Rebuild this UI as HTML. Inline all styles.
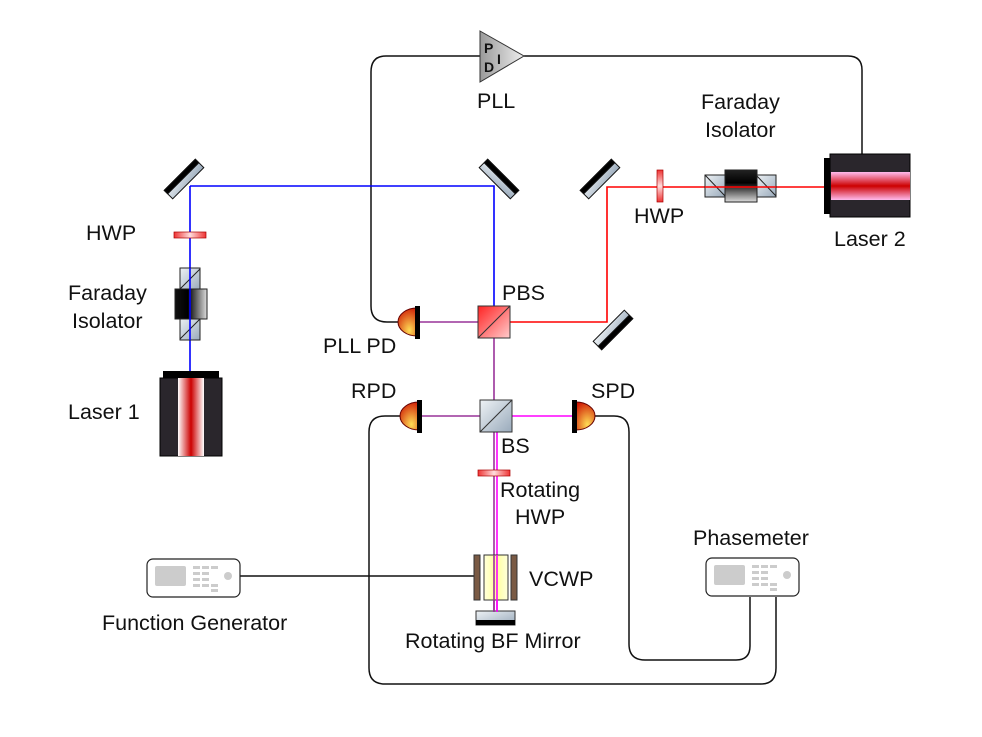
<!DOCTYPE html>
<html><head><style>body{margin:0;background:#fff}svg{display:block}text{font-family:"Liberation Sans",sans-serif;font-size:21.5px;fill:#111}</style></head><body>
<svg width="982" height="737" viewBox="0 0 982 737" xmlns="http://www.w3.org/2000/svg">
<defs>
<linearGradient id="red" x1="0" x2="1"><stop offset="0" stop-color="#fff"/><stop offset=".5" stop-color="#c00"/><stop offset="1" stop-color="#fff"/></linearGradient>
<linearGradient id="redv" x1="0" y1="0" x2="0" y2="1"><stop offset="0" stop-color="#fbe"/><stop offset=".5" stop-color="#c00"/><stop offset="1" stop-color="#fbe"/></linearGradient>
<linearGradient id="hwp" x1="0" x2="1"><stop offset="0" stop-color="#e33"/><stop offset=".5" stop-color="#fdd"/><stop offset="1" stop-color="#e33"/></linearGradient>
<linearGradient id="hwpv" x1="0" y1="0" x2="0" y2="1"><stop offset="0" stop-color="#e33"/><stop offset=".5" stop-color="#fdd"/><stop offset="1" stop-color="#e33"/></linearGradient>
<linearGradient id="mag" x1="0" x2="1"><stop offset="0" stop-color="#111"/><stop offset=".4" stop-color="#000"/><stop offset="1" stop-color="#ddd"/></linearGradient>
<linearGradient id="magv" x1="0" y1="0" x2="0" y2="1"><stop offset="0" stop-color="#222"/><stop offset=".4" stop-color="#000"/><stop offset="1" stop-color="#ddd"/></linearGradient>
<linearGradient id="glass" x1="0" y1="0" x2="1" y2="1"><stop offset="0" stop-color="#eef2f5"/><stop offset="1" stop-color="#9ab"/></linearGradient>
<linearGradient id="pbs" x1="0" y1="0" x2="1" y2="1"><stop offset="0" stop-color="#f22"/><stop offset="1" stop-color="#fcc"/></linearGradient>
<radialGradient id="pd" cx=".6" cy=".8" r=".9"><stop offset="0" stop-color="#fd5"/><stop offset="1" stop-color="#c10"/></radialGradient>
<linearGradient id="pll" x1="0" x2="1"><stop offset="0" stop-color="#999"/><stop offset="1" stop-color="#eee"/></linearGradient>
<linearGradient id="yel" x1="0" x2="1"><stop offset="0" stop-color="#ffd"/><stop offset=".5" stop-color="#ff9"/><stop offset="1" stop-color="#ffd"/></linearGradient>
</defs>
<g fill="none" stroke="#111" stroke-width="1.5">
<path d="M524 56 H848 Q862 56 862 70 V154"/>
<path d="M480 56 H386 Q371 56 371 72 V306 Q371 322 387 322 H400"/>
<path d="M593 416 H614 Q629 416 629 432 V644 Q629 660 645 660 H736 Q750 660 750 646 V597"/>
<path d="M400 416 H385 Q369 416 369 432 V668 Q369 684 385 684 H761 Q776 684 776 668 V597"/>
<path d="M240 576 H474"/>
</g>
<g fill="none" stroke-width="1.6">
<path d="M190 186 H494 V322" stroke="#00f"/>
<path d="M190 186 V372" stroke="#00f"/>
<path d="M825 187 H607 V322 H494" stroke="#f00"/>
<path d="M420 322 H494 V416 H420" stroke="#939"/>
<path d="M495 416 H572 M497 416 V612" stroke="#f0f"/>
<path d="M494 416 V612" stroke="#939"/>
</g>
<g stroke="#111" stroke-width="1">
<g transform="translate(184,179) rotate(-45)"><rect x="-22" y="-6" width="44" height="12" fill="url(#glass)"/><rect x="-22" y="-6" width="44" height="5" fill="#000"/></g>
<g transform="translate(499,179) rotate(45)"><rect x="-22" y="-6" width="44" height="12" fill="url(#glass)"/><rect x="-22" y="-6" width="44" height="5" fill="#000"/></g>
<g transform="translate(600,179) rotate(-45)"><rect x="-22" y="-6" width="44" height="12" fill="url(#glass)"/><rect x="-22" y="-6" width="44" height="5" fill="#000"/></g>
<g transform="translate(613,330) rotate(-45)"><rect x="-22" y="-6" width="44" height="12" fill="url(#glass)"/><rect x="-22" y="1" width="44" height="5" fill="#000"/></g>
</g>
<rect x="174" y="232" width="32" height="6" fill="url(#hwp)" stroke="#a00" stroke-width=".7"/>
<rect x="478" y="470" width="32" height="6" fill="url(#hwp)" stroke="#a00" stroke-width=".7"/>
<rect x="657" y="170" width="6" height="32" fill="url(#hwpv)" stroke="#a00" stroke-width=".7"/>
<g stroke="#222" stroke-width="1">
<rect x="180" y="268" width="20" height="22" fill="url(#glass)"/><line x1="180" y1="289" x2="200" y2="269"/>
<rect x="180" y="318" width="20" height="22" fill="url(#glass)"/><line x1="180" y1="339" x2="200" y2="319"/>
<rect x="175" y="289" width="32" height="30" fill="url(#mag)"/>
<rect x="705" y="175" width="20" height="22" fill="url(#glass)"/><line x1="705" y1="175" x2="725" y2="196"/>
<rect x="756" y="175" width="20" height="22" fill="url(#glass)"/><line x1="756" y1="175" x2="776" y2="196"/>
<rect x="725" y="170" width="32" height="32" fill="url(#magv)"/>
</g>
<line x1="190" y1="268" x2="190" y2="340" stroke="#00f" stroke-width="1.6"/>
<line x1="705" y1="187" x2="776" y2="187" stroke="#f00" stroke-width="1.6"/>
<rect x="163" y="371" width="56" height="7" fill="#000"/>
<rect x="160" y="378" width="62" height="78" fill="#2a262c" stroke="#000"/>
<rect x="178" y="378" width="26" height="78" fill="url(#red)"/>
<rect x="824" y="158" width="8" height="56" fill="#000"/>
<rect x="830" y="154" width="80" height="63" fill="#2a262c" stroke="#000"/>
<rect x="831" y="172" width="79" height="28" fill="url(#redv)"/>
<g stroke="#333" stroke-width="1">
<rect x="478" y="306" width="32" height="32" fill="url(#pbs)"/><line x1="478" y1="338" x2="510" y2="306"/>
<rect x="480" y="400" width="32" height="32" fill="url(#glass)"/><line x1="480" y1="432" x2="512" y2="400"/>
</g>
<path d="M417 308 A19 14 0 0 0 417 336 Z" fill="url(#pd)" stroke="#600"/>
<rect x="415" y="306" width="5" height="33" fill="#000"/>
<path d="M419 402 A19 14 0 0 0 419 430 Z" fill="url(#pd)" stroke="#600"/>
<rect x="417" y="400" width="5" height="33" fill="#000"/>
<path d="M576 402 A19 14 0 0 1 576 430 Z" fill="url(#pd)" stroke="#600"/>
<rect x="572" y="400" width="5" height="33" fill="#000"/>
<g stroke="#333" stroke-width="1">
<rect x="474" y="555" width="6" height="45" fill="#7a5a44"/>
<rect x="484" y="555" width="24" height="45" fill="url(#yel)"/>
<rect x="511" y="555" width="6" height="45" fill="#7a5a44"/>
<rect x="476" y="611" width="39" height="14" fill="url(#glass)"/>
</g>
<rect x="476" y="620" width="39" height="5" fill="#000"/>
<line x1="494" y1="555" x2="494" y2="612" stroke="#939" stroke-width="1.6"/>
<line x1="497" y1="555" x2="497" y2="612" stroke="#f0f" stroke-width="1.6"/>
<path d="M480 31 L524 56 L480 82 Z" fill="url(#pll)" stroke="#333"/>
<text x="484" y="53" style="font-size:14px;font-weight:bold">P</text>
<text x="484" y="72" style="font-size:14px;font-weight:bold">D</text>
<text x="497" y="64" style="font-size:14px;font-weight:bold">I</text>
<g>
<rect x="147" y="559" width="93" height="38" rx="6" fill="#fff" stroke="#222" stroke-width="1.2"/>
<rect x="155" y="566" width="31" height="20" rx="2" fill="#ccc"/>
<g fill="#ccc"><rect x="193" y="566" width="7" height="3"/><rect x="202" y="566" width="7" height="3"/><rect x="211" y="566" width="7" height="3"/><rect x="193" y="572" width="7" height="3"/><rect x="202" y="572" width="7" height="3"/><rect x="193" y="578" width="7" height="3"/><rect x="202" y="578" width="7" height="3"/><rect x="193" y="584" width="7" height="3"/><rect x="202" y="584" width="7" height="3"/><rect x="211" y="584" width="7" height="3"/><rect x="211" y="589" width="7" height="3"/><circle cx="228" cy="576" r="4"/></g>
</g>
<g transform="translate(559,-1)">
<rect x="147" y="559" width="93" height="38" rx="6" fill="#fff" stroke="#222" stroke-width="1.2"/>
<rect x="155" y="566" width="31" height="20" rx="2" fill="#ccc"/>
<g fill="#ccc"><rect x="193" y="566" width="7" height="3"/><rect x="202" y="566" width="7" height="3"/><rect x="211" y="566" width="7" height="3"/><rect x="193" y="572" width="7" height="3"/><rect x="202" y="572" width="7" height="3"/><rect x="193" y="578" width="7" height="3"/><rect x="202" y="578" width="7" height="3"/><rect x="193" y="584" width="7" height="3"/><rect x="202" y="584" width="7" height="3"/><rect x="211" y="584" width="7" height="3"/><rect x="211" y="589" width="7" height="3"/><circle cx="228" cy="576" r="4"/></g>
</g>
<text x="477" y="108">PLL</text>
<text x="701" y="109">Faraday</text>
<text x="705" y="137">Isolator</text>
<text x="634" y="223">HWP</text>
<text x="834" y="246">Laser 2</text>
<text x="86" y="240">HWP</text>
<text x="68" y="300">Faraday</text>
<text x="72" y="328">Isolator</text>
<text x="68" y="419">Laser 1</text>
<text x="502" y="300">PBS</text>
<text x="323" y="353">PLL PD</text>
<text x="351" y="398">RPD</text>
<text x="591" y="398">SPD</text>
<text x="501" y="453">BS</text>
<text x="500" y="497">Rotating</text>
<text x="515" y="524">HWP</text>
<text x="529" y="586">VCWP</text>
<text x="693" y="545">Phasemeter</text>
<text x="102" y="630">Function Generator</text>
<text x="405" y="648">Rotating BF Mirror</text>
</svg>
</body></html>
